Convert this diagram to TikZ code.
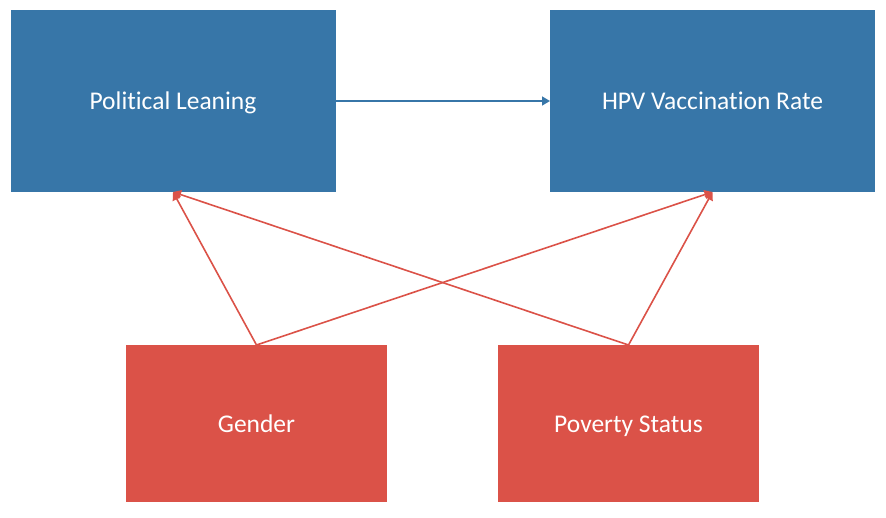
\documentclass[tikz,border=0pt]{standalone}
\usepackage{fontspec}
\setmainfont[Ligatures=NoCommon]{Carlito}
\usetikzlibrary{arrows.meta}
\definecolor{blockblue}{HTML}{3776A8}
\definecolor{blockred}{HTML}{DB5248}
\tikzset{block/.style = {fill=#1, rectangle, inner sep=0pt, outer sep=0pt, text=white, text height=22pt, text depth=5pt, font=\fontsize{25.5}{30}\selectfont},
         bigblock/.style = {block=blockblue, minimum width=325pt, minimum height=182pt},
         smallblock/.style = {block=blockred, minimum width=261pt, minimum height=157pt},
         link/.style = {line width=1.6pt, -{Triangle[length=8pt,width=9pt]}}}
\begin{document}
\begin{tikzpicture}[x=1pt,y=1pt]
        \useasboundingbox (0,0) rectangle (886,-517);
        \node[bigblock](pol)at(173,-101){Political Leaning};
        \node[bigblock](hpv)at(712.5,-101){HPV Vaccination Rate};
        \node[smallblock](gen)at(256.5,-423.5){Gender};
        \node[smallblock](pov)at(628.5,-423.5){Poverty Status};

        \draw[link,blockblue](pol.east)--(hpv.west);
        \draw[link,blockred](gen.north)--(pol.south);
        \draw[link,blockred](gen.north)--(hpv.south);
        \draw[link,blockred](pov.north)--(pol.south);
        \draw[link,blockred](pov.north)--(hpv.south);
    \end{tikzpicture}
\end{document}
